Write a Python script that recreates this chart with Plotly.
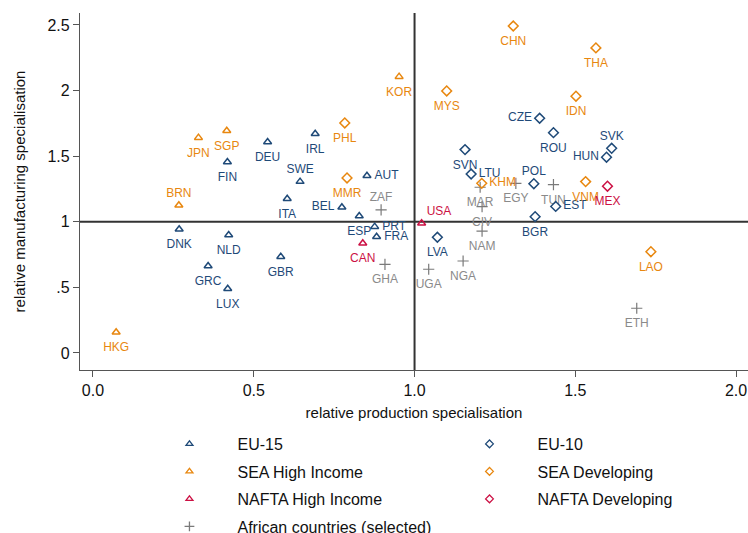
import plotly.graph_objects as go

# ---------------- data ----------------
eu15_names = ["DNK", "NLD", "GRC", "LUX", "GBR", "FIN", "DEU", "ITA", "SWE", "IRL",
              "BEL", "AUT", "ESP", "PRT", "FRA"]
eu15_x = [0.268, 0.422, 0.358, 0.419, 0.584, 0.418, 0.543, 0.604, 0.644, 0.691,
          0.774, 0.852, 0.828, 0.876, 0.882]
eu15_y = [0.943, 0.899, 0.663, 0.490, 0.734, 1.456, 1.608, 1.176, 1.306, 1.671,
          1.111, 1.351, 1.044, 0.963, 0.886]

seahi_names = ["JPN", "SGP", "BRN", "HKG", "KOR"]
seahi_x = [0.328, 0.416, 0.267, 0.072, 0.952]
seahi_y = [1.641, 1.694, 1.126, 0.158, 2.106]

naftahi_names = ["USA", "CAN"]
naftahi_x = [1.022, 0.839]
naftahi_y = [0.989, 0.836]

eu10_names = ["CZE", "ROU", "SVN", "HUN", "SVK", "LTU", "POL", "EST", "BGR", "LVA"]
eu10_x = [1.389, 1.432, 1.157, 1.597, 1.613, 1.176, 1.371, 1.439, 1.375, 1.071]
eu10_y = [1.789, 1.679, 1.550, 1.492, 1.560, 1.364, 1.290, 1.117, 1.039, 0.882]

seadev_names = ["CHN", "THA", "IDN", "MYS", "PHL", "MMR", "KHM", "VNM", "LAO"]
seadev_x = [1.307, 1.564, 1.502, 1.100, 0.783, 0.790, 1.209, 1.532, 1.735]
seadev_y = [2.492, 2.325, 1.957, 1.997, 1.753, 1.334, 1.293, 1.306, 0.772]

naftadev_names = ["MEX"]
naftadev_x = [1.600]
naftadev_y = [1.271]

afr_names = ["ZAF", "GHA", "UGA", "NGA", "MAR", "EGY", "TUN", "CIV", "NAM", "ETH"]
afr_x = [0.896, 0.908, 1.044, 1.151, 1.204, 1.315, 1.432, 1.210, 1.210, 1.691]
afr_y = [1.090, 0.676, 0.638, 0.701, 1.263, 1.293, 1.283, 1.115, 0.928, 0.341]

y_tickvals = [0, 0.5, 1, 1.5, 2, 2.5]
y_ticktext = ["0", ".5", "1", "1.5", "2", "2.5"]
x_tickvals = [0, 0.5, 1, 1.5, 2]
x_ticktext = ["0.0", "0.5", "1.0", "1.5", "2.0"]

# ---------------- style ----------------
NAVY = "#1f4a78"
ORANGE = "#e8870f"
CRIMSON = "#cc1144"
GRAY = "#8a8a8a"
FONT = "Liberation Sans, Arial, sans-serif"

label_pos = {
    "SWE": "top center", "BRN": "top center", "ZAF": "top center", "SVK": "top center",
    "POL": "top center",
    "BEL": "middle left", "CZE": "middle left", "HUN": "middle left",
    "AUT": "middle right", "PRT": "middle right", "FRA": "middle right",
    "LTU": "middle right", "KHM": "middle right", "EST": "middle right",
    "USA": "top right",
}
# invisible marker size controlling the label gap for each position
gap_size = {"bottom center": 14.5, "top center": 7.5, "middle left": 10.5,
            "middle right": 10.5, "top right": 6.5}


def positions(names):
    return [label_pos.get(n, "bottom center") for n in names]


fig = go.Figure()


def add(names, xs, ys, name, symbol, color, legend, group, size=7, lw=1.5, tcolor=None,
        lsize=6):
    pos = positions(names)
    # visible markers
    fig.add_trace(go.Scatter(
        x=xs, y=ys, mode="markers",
        marker=dict(symbol=symbol, size=size, color=color,
                    line=dict(width=lw, color=color)),
        name=name, showlegend=False, legendgroup=group, cliponaxis=False,
    ))
    # labels
    fig.add_trace(go.Scatter(
        x=xs, y=ys, mode="markers+text", text=names, textposition=pos,
        textfont=dict(family=FONT, size=12, color=tcolor or color),
        marker=dict(size=[gap_size[p] for p in pos], opacity=0, color=color),
        name=name, showlegend=False, legendgroup=group, cliponaxis=False,
        hoverinfo="skip",
    ))
    # legend entry
    fig.add_trace(go.Scatter(
        x=[None], y=[None], mode="markers",
        marker=dict(symbol=symbol, size=lsize, color=color,
                    line=dict(width=1.3, color=color)),
        name=name, legend=legend, legendgroup=group,
    ))


add(eu15_names, eu15_x, eu15_y, "EU-15", "triangle-up-open", NAVY, "legend", "a")
add(seahi_names, seahi_x, seahi_y, "SEA High Income", "triangle-up-open", ORANGE, "legend", "b")
add(naftahi_names, naftahi_x, naftahi_y, "NAFTA High Income", "triangle-up-open", CRIMSON,
    "legend", "c")
add(afr_names, afr_x, afr_y, "African countries (selected)", "cross-thin-open", "#7a7a7a",
    "legend", "d", size=8, lw=1.2, tcolor=GRAY, lsize=7)
add(eu10_names, eu10_x, eu10_y, "EU-10", "diamond-open", NAVY, "legend2", "e", size=7.5)
add(seadev_names, seadev_x, seadev_y, "SEA Developing", "diamond-open", ORANGE, "legend2", "f",
    size=7.5)
add(naftadev_names, naftadev_x, naftadev_y, "NAFTA Developing", "diamond-open", CRIMSON,
    "legend2", "g", size=7.5)

# reference lines at 1
fig.add_shape(type="line", xref="x", yref="paper", x0=1, x1=1, y0=0, y1=1,
              line=dict(color="#333333", width=2), layer="below")
fig.add_shape(type="line", xref="paper", yref="y", x0=0, x1=1, y0=1, y1=1,
              line=dict(color="#333333", width=2), layer="below")

legend_common = dict(
    xanchor="left", yanchor="top", y=-0.1597,
    font=dict(family=FONT, size=16, color="#111111"),
    itemwidth=86, traceorder="grouped", tracegroupgap=3.7,
    bgcolor="rgba(0,0,0,0)", orientation="v",
)

fig.update_layout(
    width=748, height=533,
    margin=dict(l=80, r=0, t=13, b=163, autoexpand=False),
    paper_bgcolor="white", plot_bgcolor="white",
    font=dict(family=FONT, size=14, color="#111111"),
    showlegend=True,
    legend=dict(x=0.092, **legend_common),
    legend2=dict(x=0.5412, **legend_common),
    xaxis=dict(
        range=[-0.0404, 2.037], tickvals=x_tickvals, ticktext=x_ticktext,
        ticks="outside", ticklen=6, tickcolor="#555555", tickwidth=1,
        showline=True, linecolor="#555555", linewidth=1.3,
        showgrid=False, zeroline=False, automargin=False,
        tickfont=dict(family=FONT, size=16, color="#111111"),
        title=dict(text="relative production specialisation",
                   font=dict(family=FONT, size=15, color="#111111"), standoff=9),
    ),
    yaxis=dict(
        range=[-0.1296, 2.591], tickvals=y_tickvals, ticktext=y_ticktext,
        ticks="outside", ticklen=6, tickcolor="#555555", tickwidth=1,
        showline=True, linecolor="#555555", linewidth=1.3,
        showgrid=False, zeroline=False, automargin=False,
        tickfont=dict(family=FONT, size=16, color="#111111"),
        title=dict(text="relative manufacturing specialisation",
                   font=dict(family=FONT, size=15, color="#111111"), standoff=18),
    ),
)

fig.write_html("out.html", config={"displayModeBar": False},
               post_script="document.body.style.margin='0';")
